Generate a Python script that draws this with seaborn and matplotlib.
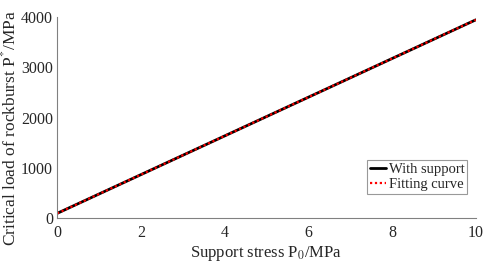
import numpy as np
import pandas as pd
import matplotlib
matplotlib.use("Agg")
import matplotlib.pyplot as plt
import seaborn as sns

# Data
support_stress = [0, 2, 4, 6, 8, 10]
with_support = [95, 865, 1635, 2405, 3175, 3945]
fitting_curve = [95, 865, 1635, 2405, 3175, 3945]

df = pd.DataFrame({
    "P0": support_stress * 2,
    "P": with_support + fitting_curve,
    "series": ["With support"] * len(support_stress) + ["Fitting curve"] * len(support_stress),
})

sns.set_style("white")
plt.rcParams['font.family'] = ['Liberation Serif', 'DejaVu Serif']
plt.rcParams['mathtext.fontset'] = 'stix'

fig, ax = plt.subplots(figsize=(4.84, 2.71), dpi=100)

sns.lineplot(data=df[df.series == "With support"], x="P0", y="P", color="black",
             linewidth=2, ax=ax, label="With support")
sns.lineplot(data=df[df.series == "Fitting curve"], x="P0", y="P", color="red",
             linewidth=1.6, linestyle=(0, (1, 1.2)), ax=ax, label="Fitting curve")

ax.set_xlim(0, 10)
ax.set_ylim(0, 4000)
ax.set_xticks([0, 2, 4, 6, 8, 10])
ax.set_yticks([0, 1000, 2000, 3000, 4000])

for side in ["top", "right"]:
    ax.spines[side].set_visible(False)
for side in ["left", "bottom"]:
    ax.spines[side].set_color("#808080")
    ax.spines[side].set_linewidth(0.8)

ax.tick_params(axis="both", direction="in", length=3, color="#808080",
               labelsize=11.5, pad=3)
ax.tick_params(axis="x", pad=5)

ax.set_xlabel("Support stress P$_0$/MPa", fontsize=12, labelpad=2)
ax.set_ylabel("Critical load of rockburst P$^{*}$/MPa", fontsize=12.5)
ax.yaxis.set_label_coords(-0.09, 0.45)

leg = ax.legend(loc="lower right", bbox_to_anchor=(0.98, 0.12), fontsize=10.5,
                frameon=True, fancybox=False, handlelength=1.1, handletextpad=0.2,
                borderpad=0.2, labelspacing=0.1, borderaxespad=0)
leg.get_frame().set_edgecolor("#808080")
leg.get_frame().set_linewidth(0.8)

plt.subplots_adjust(left=0.118, right=0.983, top=0.937, bottom=0.195)
plt.savefig("out.png", dpi=100)
